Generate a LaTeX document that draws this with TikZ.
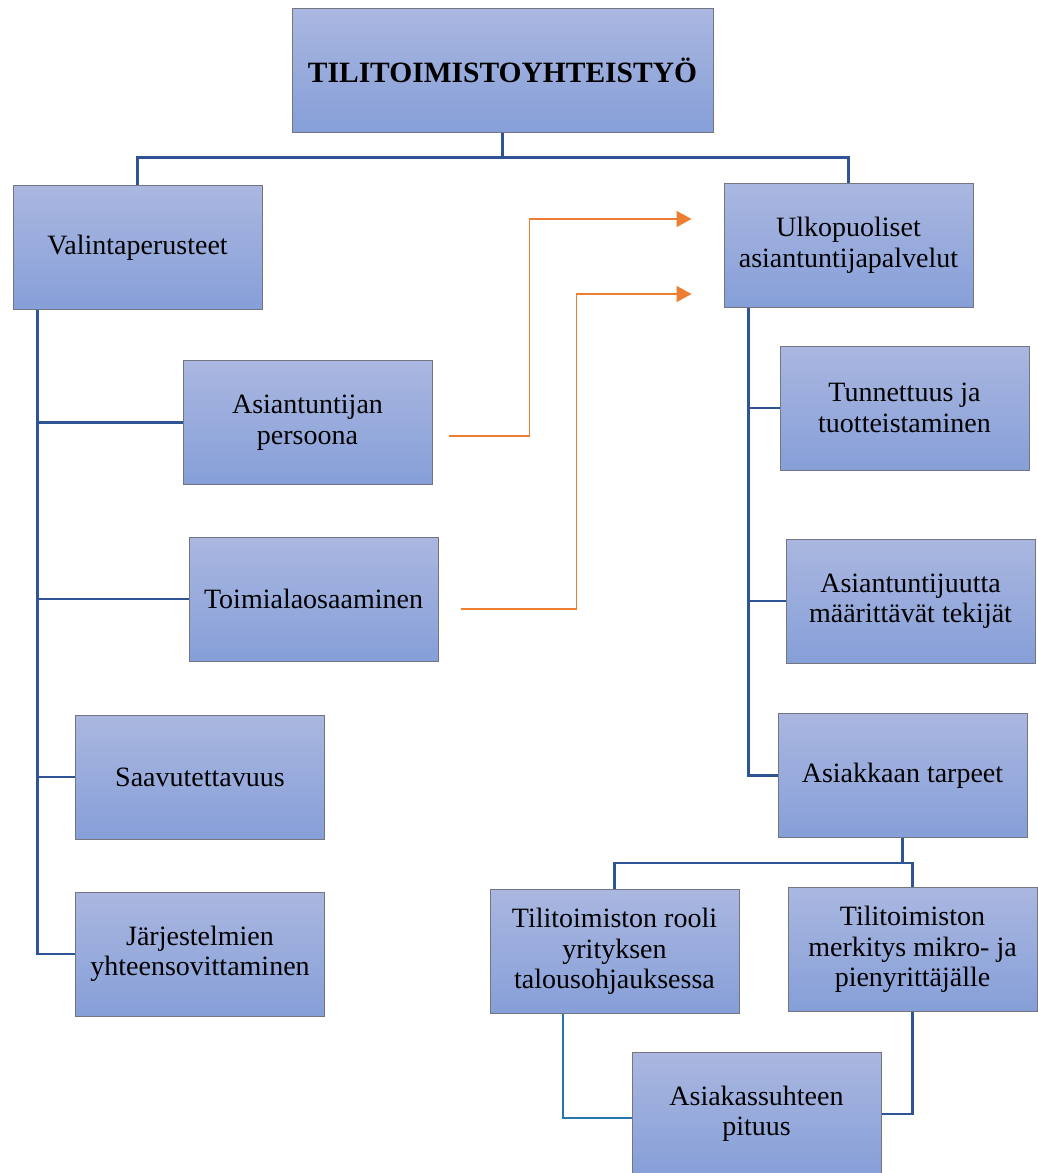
\documentclass[tikz,border=0pt]{standalone}
\usepackage{fontspec}
\setmainfont{Liberation Serif}
\usetikzlibrary{arrows.meta}
\definecolor{boxtop}{RGB}{170,183,224}
\definecolor{boxbot}{RGB}{134,159,216}
\definecolor{boxline}{RGB}{115,118,128}
\definecolor{linkblue}{RGB}{47,84,150}
\definecolor{floworange}{RGB}{237,125,49}
\tikzset{
  box/.style={rectangle, draw=boxline, line width=1pt, top color=boxtop, bottom color=boxbot,
    minimum width=249pt, minimum height=124pt, align=center, inner sep=2pt,
    font=\fontsize{28}{30.5}\selectfont},
  link/.style={draw=linkblue, line width=2.4pt},
  thinlink/.style={draw=linkblue!80!cyan, line width=1.3pt},
  flow/.style={draw=floworange, line width=1.6pt, -{Triangle[length=15pt,width=16pt]}}
}
\begin{document}
\begin{tikzpicture}[x=1pt,y=-1pt]
\useasboundingbox (0,0) rectangle (1038,1173);
\node(top) at (502.5,70)[box, minimum width=421pt, font=\fontsize{29.5}{32}\selectfont\bfseries] {TILITOIMISTOYHTEISTYÖ};
\node(valinta) at (137.5,247.5)[box]                   {Valintaperusteet};
\node(ulko) at (848.5,245.5)[box]                      {Ulkopuoliset\\asiantuntijapalvelut};
\node(persoona) at (307.5,422.5)[box]                  {Asiantuntijan\\persoona};
\node(toimiala) at (313.5,599)[box]                    {Toimialaosaaminen};
\node(saavu) at (200,777)[box]                         {Saavutettavuus};
\node(jarj) at (200,954)[box]                          {Järjestelmien\\yhteensovittaminen};
\node(tunnettuus) at (904.5,408)[box]                  {Tunnettuus ja\\tuotteistaminen};
\node(tekijat) at (910.5,601)[box]                     {Asiantuntijuutta\\määrittävät tekijät};
\node(tarpeet) at (902.5,775.5)[box]                   {Asiakkaan tarpeet};
\node(rooli) at (614.5,951.5)[box]                     {Tilitoimiston rooli\\yrityksen\\talousohjauksessa};
\node(merkitys) at (912.5,949.5)[box]                  {Tilitoimiston\\merkitys mikro- ja\\pienyrittäjälle};
\node(pituus) at (756.5,1114)[box]                     {Asiakassuhteen\\pituus};

\coordinate(from1) at ([shift={(16,13.5)}]persoona.east);
\coordinate(from2) at ([shift={(22,10)}]toimiala.east);
\coordinate(to1) at ([shift={(-32,-26.5)}]ulko.west);
\coordinate(to2) at ([shift={(-32,48.5)}]ulko.west);

\path [link]
  (top.south) -- ++(0,25) -| (valinta.north)
  (top.south) -- ++(0,25) -| (ulko.north)
  ([xshift=25pt]valinta.south west) |- (persoona.west)
  ([xshift=25pt]valinta.south west) |- (toimiala.west)
  ([xshift=25pt]valinta.south west) |- (saavu.west)
  ([xshift=25pt]valinta.south west) |- (jarj.west)
  ([xshift=25pt]ulko.south west) |- (tunnettuus.west)
  ([xshift=25pt]ulko.south west) |- (tekijat.west)
  ([xshift=25pt]ulko.south west) |- (tarpeet.west)
  (tarpeet.south) -- ++(0,25) -| (rooli.north)
  (tarpeet.south) -- ++(0,25) -| (merkitys.north)
  (merkitys.south) |- (pituus.east);
\path [thinlink]
  ([xshift=-51.5pt]rooli.south) |- ([yshift=-4pt]pituus.west);

\draw [flow] (from1) -- ++(81,0) |- (to1);
\draw [flow] (from2) -- ++(116,0) |- (to2);

\end{tikzpicture}
\end{document}
